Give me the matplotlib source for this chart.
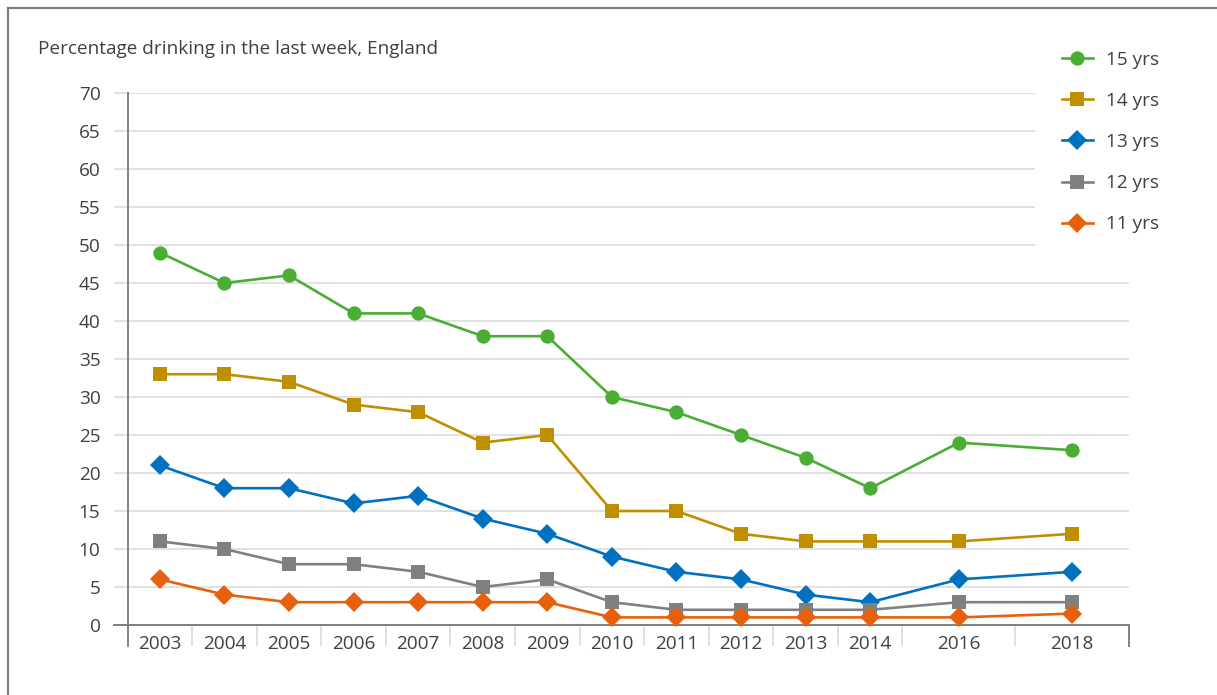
import numpy as np
import matplotlib
matplotlib.use("Agg")
import matplotlib.pyplot as plt
from matplotlib.lines import Line2D

# ---- data ----
years = ["2003", "2004", "2005", "2006", "2007", "2008", "2009", "2010",
         "2011", "2012", "2013", "2014", "2016", "2018"]
age15 = [49, 45, 46, 41, 41, 38, 38, 30, 28, 25, 22, 18, 24, 23]
age14 = [33, 33, 32, 29, 28, 24, 25, 15, 15, 12, 11, 11, 11, 12]
age13 = [21, 18, 18, 16, 17, 14, 12, 9, 7, 6, 4, 3, 6, 7]
age12 = [11, 10, 8, 8, 7, 5, 6, 3, 2, 2, 2, 2, 3, 3]
age11 = [6, 4, 3, 3, 3, 3, 3, 1, 1, 1, 1, 1, 1, 1.5]
series_labels = ["15 yrs", "14 yrs", "13 yrs", "12 yrs", "11 yrs"]
title = "Percentage drinking in the last week, England"

# ---- layout (category widths: later survey years get wider slots) ----
widths = np.array([1.0] * 12 + [1.75] * 2)
edges = np.concatenate([[0.0], np.cumsum(widths)])
centers = edges[:-1] + widths / 2

plt.rcParams['font.family'] = ['Open Sans', 'DejaVu Sans']
W, H, DPI = 1217, 695, 100
FS = 13.7
fig = plt.figure(figsize=(W / DPI, H / DPI), dpi=DPI)
ax = fig.add_axes([127.6 / W, 1 - 625 / H, (1128.5 - 127.6) / W, (625 - 93) / H])

txt_color = "#404040"
grid_color = "#d9d9d9"
axis_color = "#808080"

styles = [
    (age15, "#4aad34", "o", 10.3),
    (age14, "#bf8f00", "s", 9.6),
    (age13, "#0070c0", "D", 10.0),
    (age12, "#808080", "s", 9.6),
    (age11, "#e8600c", "D", 10.0),
]
handles = []
for (vals, col, mk, ms), lab in zip(styles, series_labels):
    h, = ax.plot(centers, vals, color=col, lw=1.9, marker=mk, ms=ms,
                 markeredgewidth=0, label=lab, zorder=3, clip_on=False)
    handles.append(h)

ax.set_xlim(edges[0], edges[-1])
ax.set_ylim(0, 70)
ax.set_yticks(np.arange(0, 71, 5))
ax.yaxis.grid(True, color=grid_color, lw=1.1)
ax.set_axisbelow(True)
ax.tick_params(axis='y', length=10, width=1.1, color=grid_color,
               labelsize=FS, labelcolor=txt_color, pad=9.5)

ax.set_xticks(centers)
ax.set_xticklabels(years)
ax.set_xticks(edges[1:-1], minor=True)
ax.tick_params(axis='x', which='major', length=0, labelsize=FS,
               labelcolor=txt_color, pad=7.5)
ax.tick_params(axis='x', which='minor', length=15, width=1.1, color=grid_color)

for s in ["top", "right"]:
    ax.spines[s].set_visible(False)
ax.spines["left"].set_color(axis_color)
ax.spines["left"].set_linewidth(1.4)
ax.spines["bottom"].set_color(axis_color)
ax.spines["bottom"].set_linewidth(1.4)

# end ticks of the category axis (darker) and extension of the zero line
tr = ax.get_xaxis_transform()
for xe in (edges[0], edges[-1]):
    ax.add_line(Line2D([xe, xe], [0, -0.04], transform=tr, color=axis_color,
                       lw=1.4, clip_on=False))
ax.add_line(Line2D([-0.014, 0], [0, 0], transform=ax.transAxes,
                   color=axis_color, lw=1.4, clip_on=False))

fig.text(38 / W, 1 - 49 / H, title, fontsize=FS, color=txt_color,
         ha="left", va="center")

leg = fig.legend(handles=handles, loc="upper left",
                 bbox_to_anchor=(1035 / W, 1 - 24 / H),
                 frameon=True, facecolor="white", edgecolor="none",
                 framealpha=1, fontsize=FS, labelcolor=txt_color,
                 handlelength=1.63, handletextpad=0.68, labelspacing=1.22,
                 borderpad=1.4, borderaxespad=0)
leg.set_zorder(5)

# outer border (only left and top are visible in the frame)
fig.add_artist(Line2D([8 / W, 8 / W], [0, 1 - 8 / H], transform=fig.transFigure,
                      color="#7f7f7f", lw=1.6))
fig.add_artist(Line2D([8 / W, 1], [1 - 8 / H, 1 - 8 / H], transform=fig.transFigure,
                      color="#7f7f7f", lw=1.6))

fig.savefig("out.png", dpi=DPI, facecolor="white")
